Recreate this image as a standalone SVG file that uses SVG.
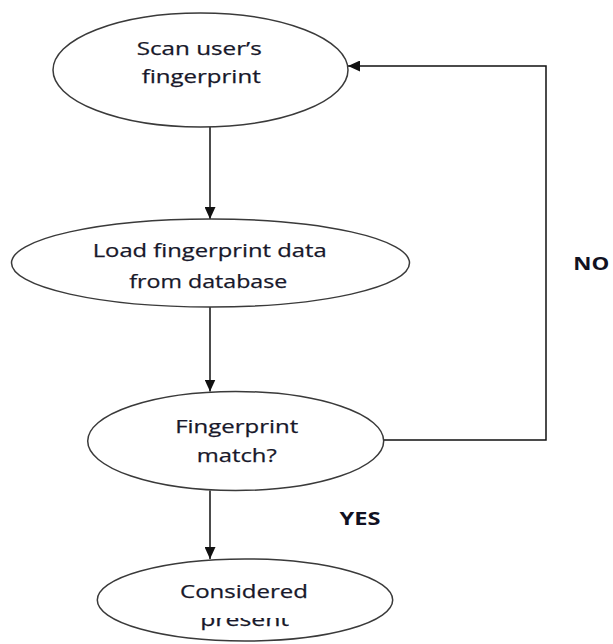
<svg xmlns="http://www.w3.org/2000/svg" width="613" height="644" viewBox="0 0 613 644">
  <style>
    .node ellipse { fill: #ffffff; stroke: #3a3a3a; stroke-width: 1.5; }
    .label { font-family: "Open Sans", "Noto Sans", "Liberation Sans", sans-serif; font-size: 19px; fill: #18182a; stroke: #18182a; stroke-width: 0.25; text-anchor: middle; }
    .tag { font-family: "Open Sans", "Noto Sans", "Liberation Sans", sans-serif; font-size: 18.5px; font-weight: bold; fill: #111122; text-anchor: middle; }
    .conn { fill: none; stroke: #111111; stroke-width: 1.5; }
  </style>
  <defs>
    <marker id="arrow" markerUnits="userSpaceOnUse" markerWidth="13" markerHeight="11" viewBox="0 0 13 11" refX="12" refY="5.5" orient="auto">
      <path d="M0,0 L12,5.5 L0,11 Z" fill="#111111"/>
    </marker>
    <clipPath id="clipPresent">
      <rect x="0" y="618" width="613" height="26"/>
    </clipPath>
  </defs>
  <rect width="613" height="644" fill="#ffffff"/>

  <g id="connectors">
    <line class="conn" x1="210" y1="127" x2="210" y2="219" marker-end="url(#arrow)"/>
    <line class="conn" x1="210" y1="307" x2="210" y2="391.5" marker-end="url(#arrow)"/>
    <line class="conn" x1="210" y1="490.5" x2="210" y2="559" marker-end="url(#arrow)"/>
    <polyline class="conn" points="384,440 546,440 546,66 348,66" marker-end="url(#arrow)"/>
  </g>

  <g id="node-scan" class="node">
    <ellipse cx="200.5" cy="70" rx="147.5" ry="57"/>
    <text class="label" x="199.2" y="55" textLength="125" lengthAdjust="spacingAndGlyphs">Scan user’s</text>
    <text class="label" x="201.2" y="83" textLength="119" lengthAdjust="spacingAndGlyphs">fingerprint</text>
  </g>

  <g id="node-load" class="node">
    <ellipse cx="210.5" cy="263" rx="199" ry="44"/>
    <text class="label" x="209.7" y="257" textLength="234" lengthAdjust="spacingAndGlyphs">Load fingerprint data</text>
    <text class="label" x="208.3" y="288" textLength="158" lengthAdjust="spacingAndGlyphs">from database</text>
  </g>

  <g id="node-match" class="node">
    <ellipse cx="235.7" cy="441" rx="148" ry="49.5"/>
    <text class="label" x="236.7" y="432.7" textLength="123" lengthAdjust="spacingAndGlyphs">Fingerprint</text>
    <text class="label" x="236.7" y="461.7" textLength="80" lengthAdjust="spacingAndGlyphs">match?</text>
  </g>

  <g id="node-present" class="node">
    <ellipse cx="245" cy="600" rx="147.7" ry="41"/>
    <text class="label" x="244" y="598" textLength="128" lengthAdjust="spacingAndGlyphs">Considered</text>
    <text class="label" x="244.7" y="626" textLength="89" lengthAdjust="spacingAndGlyphs" clip-path="url(#clipPresent)">present</text>
  </g>

  <g id="edge-labels">
    <text class="tag" x="591.3" y="270" textLength="36" lengthAdjust="spacingAndGlyphs">NO</text>
    <text class="tag" x="360" y="525" textLength="41" lengthAdjust="spacingAndGlyphs">YES</text>
  </g>
</svg>
